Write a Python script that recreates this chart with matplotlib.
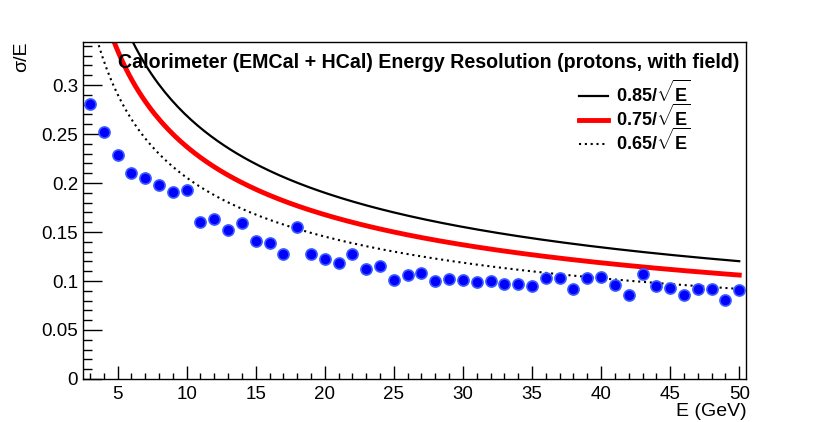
import numpy as np
import matplotlib
matplotlib.use("Agg")
from matplotlib import pyplot as plt
from matplotlib.ticker import MultipleLocator

plt.rcParams['font.family'] = ['Liberation Sans', 'DejaVu Sans']
plt.rcParams['mathtext.fontset'] = 'custom'
plt.rcParams['mathtext.rm'] = 'Liberation Sans'
plt.rcParams['mathtext.bf'] = 'Liberation Sans:bold'

# measured resolution points
energy = list(range(3, 51))
resolution = [0.281, 0.252, 0.229, 0.210, 0.205, 0.198, 0.191, 0.193, 0.160, 0.163,
              0.152, 0.159, 0.141, 0.139, 0.128, 0.155, 0.128, 0.122, 0.118, 0.128,
              0.112, 0.115, 0.101, 0.106, 0.108, 0.100, 0.102, 0.101, 0.099, 0.100,
              0.097, 0.097, 0.095, 0.103, 0.103, 0.092, 0.103, 0.104, 0.096, 0.086,
              0.107, 0.095, 0.093, 0.086, 0.092, 0.092, 0.081, 0.091]

# stochastic terms for reference curves
coefs = [0.85, 0.75, 0.65]
labels = [r"$\mathbf{0.85/\sqrt{E}}$", r"$\mathbf{0.75/\sqrt{E}}$", r"$\mathbf{0.65/\sqrt{E}}$"]

fig = plt.figure(figsize=(8.3, 4.22), dpi=100)
ax = fig.add_axes([0.1, 0.102, 0.799, 0.7985])

e = np.linspace(3, 50, 200)
ax.plot(e, coefs[0] / np.sqrt(e), color='black', lw=1.6, label=labels[0])
ax.plot(e, coefs[1] / np.sqrt(e), color='red', lw=3.5, label=labels[1])
ax.plot(e, coefs[2] / np.sqrt(e), color='black', lw=1.5, ls=(0, (1, 1.8)), label=labels[2])

ax.plot(energy, resolution, 'o', ms=8, mfc='#0000ff', mec='#3a5cff', mew=1.2,
        ls='none', zorder=5)

ax.set_xlim(2.5, 50.5)
ax.set_ylim(0, 0.344)
ax.xaxis.set_major_locator(MultipleLocator(5))
ax.xaxis.set_minor_locator(MultipleLocator(1))
ax.yaxis.set_major_locator(MultipleLocator(0.05))
ax.yaxis.set_minor_locator(MultipleLocator(0.01))
ax.set_yticks([0, 0.05, 0.1, 0.15, 0.2, 0.25, 0.3])
ax.set_yticklabels(['0', '0.05', '0.1', '0.15', '0.2', '0.25', '0.3'])
ax.set_xticks([5, 10, 15, 20, 25, 30, 35, 40, 45, 50])
ax.tick_params(which='both', direction='in', top=False, right=False, labelsize=13.5)
ax.tick_params(which='major', length=13.5, width=1)
ax.tick_params(which='minor', length=6.5, width=1)
ax.tick_params(axis='x', which='major', length=9.5, pad=5)
ax.tick_params(axis='x', which='minor', length=4.5)
for s in ax.spines.values():
    s.set_linewidth(1)

ax.set_xlabel("E (GeV)", fontsize=14, loc='right', labelpad=0)
ax.set_ylabel("σ/E", fontsize=14, loc='top', labelpad=8)

ax.text(0.522, 0.94, "Calorimeter (EMCal + HCal) Energy Resolution (protons, with field)",
        transform=ax.transAxes, ha='center', va='center', fontsize=14.1, fontweight='bold')

ax.legend(loc='upper left', bbox_to_anchor=(0.735, 0.915), frameon=False, fontsize=13,
          handlelength=1.6, handletextpad=0.4, labelspacing=-0.12, borderpad=0)

fig.savefig("out.png", dpi=100)
